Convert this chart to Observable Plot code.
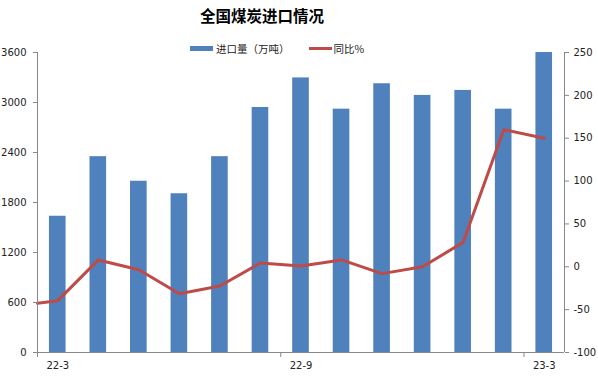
<!DOCTYPE html>
<html><head><meta charset="utf-8">
<script src="https://cdn.jsdelivr.net/npm/d3@7"></script>
<script src="https://cdn.jsdelivr.net/npm/@observablehq/plot@0.6"></script>
<style>
body{margin:0;background:#fff;font-family:"DejaVu Sans",sans-serif;}
#wrap{position:relative;width:598px;height:378px;}
#title{position:absolute;left:0;top:4px;width:524px;text-align:center;font-family:"Noto Sans CJK SC",sans-serif;font-weight:bold;font-size:15.5px;color:#000;}
#legend{position:absolute;top:41px;left:190px;font-family:"Noto Sans CJK SC",sans-serif;font-size:10.5px;color:#222;display:flex;align-items:center;}
#chart{position:absolute;left:0;top:36px;}
</style></head>
<body>
<div id="wrap">
<div id="title">全国煤炭进口情况</div>
<div id="legend">
<span style="display:inline-block;width:23px;height:5px;background:#4F81BD;margin-right:3px"></span><span>进口量（万吨）</span>
<span style="display:inline-block;width:23px;height:3px;background:#BE4B48;margin-left:19px;margin-right:2px"></span><span>同比%</span>
</div>
<div id="chart"></div>
</div>
<script>
const months = ["22-3","22-4","22-5","22-6","22-7","22-8","22-9","22-10","22-11","22-12","23-1","23-2","23-3"];
const imports = [1635, 2350, 2055, 1905, 2350, 2940, 3295, 2920, 3225, 3085, 3145, 2920, 3600];
const yoy = [-39.5, 8, -3.5, -31.5, -22.5, 4.5, 1, 8, -8, 0, 28.5, 160, 150];
const yoyStart = -42.5; // line begins at left edge of the plot
const tickLabels = ["22-3","22-9","23-3"];
const leftTicks = [0, 600, 1200, 1800, 2400, 3000, 3600];
const rightTicks = [-100, -50, 0, 50, 100, 150, 200, 250];

const leftMax = 3600, rMin = -100, rMax = 250;
const toLeft = v => (v - rMin) * leftMax / (rMax - rMin);
const toRight = v => Math.round(v * (rMax - rMin) / leftMax + rMin);

const bars = months.map((m, i) => ({i, m, v: imports[i]}));
const lineData = [{i: -0.5, v: toLeft(yoyStart)}].concat(yoy.map((v, i) => ({i, v: toLeft(v)})));
const half = 0.205;
const labelIdx = tickLabels.map(l => months.indexOf(l));
const boundaryTicks = labelIdx.map(i => i - 0.5);
const font = "DejaVu Sans";

const chart = Plot.plot({
  width: 598, height: 342,
  marginTop: 16, marginBottom: 26, marginLeft: 37, marginRight: 34,
  style: {fontFamily: font, fontSize: "10px", color: "#222", background: "transparent"},
  x: {type: "linear", domain: [-0.5, months.length - 0.5], axis: null},
  y: {domain: [0, leftMax], axis: null},
  marks: [
    Plot.rectY(bars, {x1: d => d.i - half, x2: d => d.i + half, y1: 0, y2: "v", fill: "#4F81BD"}),
    Plot.line(lineData, {x: "i", y: "v", stroke: "#BE4B48", strokeWidth: 3, strokeLinejoin: "round"}),
    Plot.ruleX([-0.5, months.length - 0.5], {stroke: "#888", strokeWidth: 1}),
    Plot.ruleY([0], {stroke: "#888", strokeWidth: 1}),
    Plot.axisY({anchor: "left", ticks: leftTicks, tickSize: 4, tickPadding: 7, stroke: "#888", tickFormat: d => String(d), label: null}),
    Plot.axisY({anchor: "right", ticks: rightTicks.map(toLeft), tickSize: 4, tickPadding: 5, stroke: "#888", tickFormat: d => String(toRight(d)), label: null}),
    Plot.axisX({ticks: boundaryTicks, tickSize: 5, stroke: "#888", tickFormat: () => "", label: null}),
    Plot.axisX({ticks: labelIdx, tickSize: 0, tickPadding: 9, tickFormat: d => months[d], label: null})
  ]
});
document.getElementById("chart").appendChild(chart);
</script>
</body></html>
